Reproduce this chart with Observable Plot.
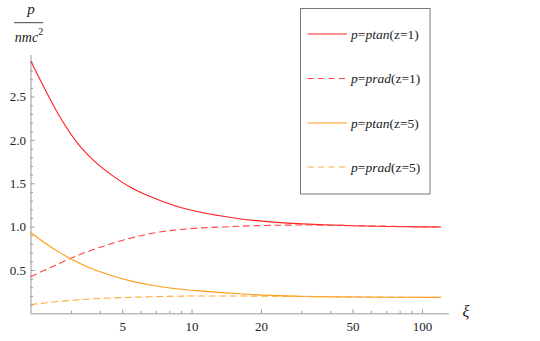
<!DOCTYPE html>
<html><head><meta charset="utf-8">
<script src="https://cdn.jsdelivr.net/npm/d3@7"></script>
<script src="https://cdn.jsdelivr.net/npm/@observablehq/plot@0.6"></script>
<style>
html,body{margin:0;padding:0;background:#fff;}
#chart{width:540px;height:341px;}
</style></head><body><div id="chart"></div>
<script>
// ---- data ----
const xi     = [2, 2.3, 2.7, 3.2, 3.8, 4.5, 5.4, 6.5, 7.5, 9, 10.5, 13, 16, 22, 30, 40, 50, 70, 100, 120];
const ptanZ1 = [2.91, 2.59, 2.25, 1.96, 1.752, 1.597, 1.46, 1.358, 1.293, 1.224, 1.18, 1.134, 1.097, 1.06, 1.038, 1.024, 1.016, 1.008, 1.003, 1.001];
const pradZ1 = [0.43, 0.505, 0.59, 0.675, 0.748, 0.812, 0.872, 0.922, 0.95, 0.973, 0.988, 1.0, 1.01, 1.02, 1.024, 1.022, 1.018, 1.011, 1.004, 1.001];
const ptanZ5 = [0.935, 0.817, 0.697, 0.593, 0.505, 0.439, 0.38, 0.336, 0.31, 0.284, 0.267, 0.247, 0.231, 0.212, 0.201, 0.196, 0.193, 0.191, 0.19, 0.19];
const pradZ5 = [0.107, 0.125, 0.145, 0.161, 0.174, 0.183, 0.19, 0.196, 0.2, 0.204, 0.206, 0.206, 0.205, 0.203, 0.2, 0.197, 0.195, 0.192, 0.19, 0.19];
const seriesKeys = ["ptanZ1", "pradZ1", "ptanZ5", "pradZ5"];
const legendZ = ["1", "1", "5", "5"];
const legendFn = ["ptan", "prad", "ptan", "prad"];
const xMajor = [5, 10, 20, 50, 100];
const xMinor = [3, 4, 6, 7, 8, 9, 30, 40, 60, 70, 80, 90];
const yMajor = [0.5, 1.0, 1.5, 2.0, 2.5];
const yMinor = [0.1,0.2,0.3,0.4,0.6,0.7,0.8,0.9,1.1,1.2,1.3,1.4,1.6,1.7,1.8,1.9,2.1,2.2,2.3,2.4,2.6,2.7,2.8,2.9];

// ---- build table ----
const valuesByKey = {ptanZ1, pradZ1, ptanZ5, pradZ5};
const rows = [];
for (const k of seriesKeys) valuesByKey[k].forEach((v, i) => rows.push({s: k, x: xi[i], y: v}));

const styles = {
  ptanZ1: {stroke: "#ff1f1f", dash: null},
  pradZ1: {stroke: "#ff4545", dash: "6,4.5"},
  ptanZ5: {stroke: "#ff9a1a", dash: null},
  pradZ5: {stroke: "#ffaa3c", dash: "6,4.5"}
};
const axisGray = "#9a9a9a";
const serif = "'Liberation Serif', 'Times New Roman', Times, serif";

const chart = Plot.plot({
  width: 540, height: 341,
  marginLeft: 30.5, marginRight: 91, marginTop: 55, marginBottom: 27.7,
  x: {type: "log", domain: [2, 131]},
  y: {domain: [0, 2.98]},
  style: {fontFamily: serif, fontSize: "13px", background: "white", color: "#222"},
  marks: [
    Plot.ruleY([0], {stroke: axisGray}),
    Plot.ruleX([2], {stroke: axisGray}),
    Plot.axisX({ticks: xMajor, tickSize: -4, tickPadding: 12, tickFormat: d => String(d), stroke: axisGray, fill: "#222", label: null}),
    Plot.axisX({ticks: xMinor, tickSize: -2.5, tickFormat: () => "", stroke: axisGray, label: null}),
    Plot.axisY({ticks: yMajor, tickSize: -4, tickPadding: 9, tickFormat: d => d.toFixed(1), stroke: axisGray, fill: "#222", label: null}),
    Plot.axisY({ticks: yMinor, tickSize: -2.5, tickFormat: () => "", stroke: axisGray, label: null}),
    ...seriesKeys.map(k => Plot.line(rows.filter(d => d.s === k), {
      x: "x", y: "y", stroke: styles[k].stroke, strokeWidth: 1.1,
      strokeDasharray: styles[k].dash, curve: "monotone-x"
    }))
  ]
});
document.getElementById("chart").appendChild(chart);

// ---- axis labels & legend ----
const svg = d3.select(chart);
// y label: p / nmc^2
svg.append("text").attr("x", 31).attr("y", 14).attr("text-anchor", "middle")
  .attr("font-family", serif).attr("font-style", "italic").attr("font-size", 15).attr("fill", "#222").text("p");
svg.append("line").attr("x1", 14).attr("x2", 43).attr("y1", 22.7).attr("y2", 22.7).attr("stroke", "#444").attr("stroke-width", 1);
const den = svg.append("text").attr("x", 29).attr("y", 41.5).attr("text-anchor", "middle")
  .attr("font-family", serif).attr("font-size", 14).attr("fill", "#222");
den.append("tspan").attr("font-style", "italic").text("nmc");
den.append("tspan").attr("font-size", 10).attr("dy", -7).text("2");
// x label
svg.append("text").attr("x", 466).attr("y", 317).attr("text-anchor", "middle")
  .attr("font-family", serif).attr("font-style", "italic").attr("font-size", 16).attr("fill", "#222").text("ξ");

// legend
const lg = svg.append("g");
lg.append("rect").attr("x", 300.5).attr("y", 8.5).attr("width", 129.5).attr("height", 185.5)
  .attr("fill", "white").attr("stroke", "#777").attr("stroke-width", 1);
const ly = [34, 78.5, 123, 167];
seriesKeys.forEach((k, i) => {
  lg.append("line").attr("x1", 307.5).attr("x2", 347).attr("y1", ly[i]).attr("y2", ly[i])
    .attr("stroke", styles[k].stroke).attr("stroke-width", 1.1)
    .attr("stroke-dasharray", styles[k].dash);
  const t = lg.append("text").attr("x", 351).attr("y", ly[i] + 4.5).attr("text-anchor", "start")
    .attr("font-family", serif).attr("font-size", 13.5).attr("fill", "#222");
  t.append("tspan").attr("font-style", "italic").text("p");
  t.append("tspan").text("=");
  t.append("tspan").attr("font-style", "italic").text(legendFn[i]);
  t.append("tspan").text("(z=" + legendZ[i] + ")");
});
</script>
</body></html>
